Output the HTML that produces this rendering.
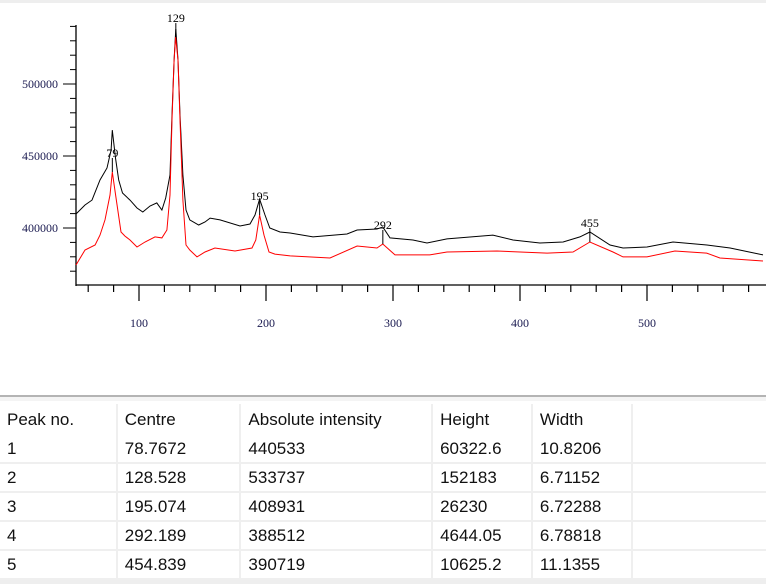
<!DOCTYPE html>
<html><head><meta charset="utf-8">
<style>
body{margin:0;width:766px;height:584px;overflow:hidden;background:#fff;font-family:"Liberation Sans",sans-serif;}
#top{position:absolute;left:0;top:0;width:766px;height:3px;background:#eeeeee;}
#chart{position:absolute;left:0;top:0;}
#sep{position:absolute;left:0;top:395px;width:766px;height:2px;background:#b4b4b4;}
#gap{position:absolute;left:0;top:397px;width:766px;height:4px;background:#f4f4f4;}
table{position:absolute;left:0;top:404px;border-collapse:collapse;font-size:17px;color:#111;}
td{height:27px;padding:0 0 0 7px;border-right:2px solid #efefef;border-bottom:2px solid #efefef;vertical-align:middle;white-space:nowrap;}
tr.h td{height:31px;border-bottom:none;}
#bottom{position:absolute;left:0;top:580px;width:766px;height:4px;background:#eeeeee;}
</style></head>
<body>
<div id="top"></div>
<svg id="chart" width="766" height="395"></svg>
<div id="sep"></div>
<div id="gap"></div>
<table>
<tr class="h">
<td style="width:109px">Peak no.</td>
<td style="width:115px">Centre</td>
<td style="width:183px">Absolute intensity</td>
<td style="width:91px">Height</td>
<td style="width:91px">Width</td>
<td style="width:127px;border-right:none"></td></tr>
<tr><td>1</td><td>78.7672</td><td>440533</td><td>60322.6</td><td>10.8206</td><td style="border-right:none"></td></tr>
<tr><td>2</td><td>128.528</td><td>533737</td><td>152183</td><td>6.71152</td><td style="border-right:none"></td></tr>
<tr><td>3</td><td>195.074</td><td>408931</td><td>26230</td><td>6.72288</td><td style="border-right:none"></td></tr>
<tr><td>4</td><td>292.189</td><td>388512</td><td>4644.05</td><td>6.78818</td><td style="border-right:none"></td></tr>
<tr><td>5</td><td>454.839</td><td>390719</td><td>10625.2</td><td>11.1355</td><td style="border-right:none"></td></tr>
</table>
<div id="bottom"></div>
<script>
const blackX=[50.4,57.5,63,69.3,74.8,78,79,81.5,84,87,92.9,98.4,103,108.7,114,118,121,124.4,126,127.6,129,130.7,132.3,134.6,137,140,147,152,156,163.8,179.5,187.4,191.3,195,199.2,203,211,219,237,263.8,271.7,287.4,292,297.6,315.7,326.8,342.5,378.7,394.5,415.7,433.9,447.2,455,470.9,481.1,500,520.5,547.2,565.4,591.3];
const blackY=[409700,416000,419400,433300,441700,454200,468000,448600,433300,424300,419400,413900,411100,415300,417400,412500,420800,436800,478500,516700,538200,516700,478500,436800,412500,405600,402100,404200,406900,405600,401400,402800,409000,420100,409000,400000,397200,396500,393800,395800,398600,399300,400700,393100,391700,389600,392400,395100,391700,389600,390300,393800,397200,388200,386100,386800,390300,388200,386100,381300];
const redX=[50.4,57.5,65.4,69.3,73.2,77.2,79,81.6,85.8,89,92.9,98.4,104.7,112.6,118,122,124.4,126,127.6,128.8,130.7,132.3,134.6,137,140,145.7,152,159.8,175.6,189,192,195,198.4,202.4,207,219,250.4,271.7,287.4,292,301.6,329,342.5,381.9,421.3,441.7,455,473.2,481.1,500,522,547,557.4,591.3];
const redY=[374300,384700,388200,395100,405600,422900,438900,422900,397200,394400,391700,386800,390300,393800,393100,398600,422900,475000,516700,532600,516700,475000,419400,388200,384700,379900,383300,386100,384000,386100,391700,409000,395100,383300,381900,380600,379200,387500,386100,388900,381300,381300,383300,384000,382600,383300,390300,383300,379900,379900,384000,382600,379200,377100];
const peakLabels=["79","129","195","292","455"];
const peakX=[79,129,195,292,455];
const peakV=[438900,532600,409000,388900,390300];
const xTicks=[100,200,300,400,500];
const yTicks=[400000,450000,500000];

const svg=document.getElementById('chart');
const NS='http://www.w3.org/2000/svg';
const sx=v=>139+(v-100)*1.27;
const sy=v=>228-(v-400000)/50000*72;
function mk(tag,attrs){const e=document.createElementNS(NS,tag);for(const k in attrs)e.setAttribute(k,attrs[k]);svg.appendChild(e);return e;}

let a=mk('line',{x1:76,y1:25,x2:76,y2:286,stroke:'#000','stroke-width':1.3});


a=mk('line',{x1:76,y1:285,x2:766,y2:285,stroke:'#000','stroke-width':1.3});



for(let v=370000;v<=540000;v+=10000){
  const major=v%50000===0;
  const t=mk('line',{x1:major?63:70,y1:sy(v),x2:76,y2:sy(v),stroke:'#000','stroke-width':1});
  
  
}
yTicks.forEach(v=>{
  const t=mk('text',{x:58,y:sy(v)+4,'text-anchor':'end','font-family':'Liberation Serif, serif','font-size':12,fill:'#1a1a50'});
  t.textContent=String(v);
  
  
});
for(let v=60;v<=590;v+=20){
  const major=v%100===0;
  const t=mk('line',{x1:sx(v),y1:285,x2:sx(v),y2:major?301:292,stroke:'#000','stroke-width':1.2});
  
  
}
xTicks.forEach(v=>{
  const t=mk('text',{x:sx(v),y:327,'text-anchor':'middle','font-family':'Liberation Serif, serif','font-size':12,fill:'#1a1a50'});
  t.textContent=String(v);
  
  
});
function line(xs,ys,color,name){
  const d=xs.map((x,i)=>(i?'L':'M')+sx(x).toFixed(1)+' '+sy(ys[i]).toFixed(1)).join(' ');
  const p=mk('path',{d:d,fill:'none',stroke:color,'stroke-width':1});
  
  
}
line(blackX,blackY,'#000','raw-spectrum-line');
line(redX,redY,'#ff0000','fitted-spectrum-line');
peakX.forEach((x,i)=>{
  const yy=sy(peakV[i]);
  const m=mk('line',{x1:sx(x),y1:yy-14,x2:sx(x),y2:yy,stroke:'#000','stroke-width':1});
  
  
  const t=mk('text',{x:sx(x),y:yy-15,'text-anchor':'middle','font-family':'Liberation Serif, serif','font-size':12,fill:'#000'});
  t.textContent=peakLabels[i];
  
  
});
</script>
</body></html>
